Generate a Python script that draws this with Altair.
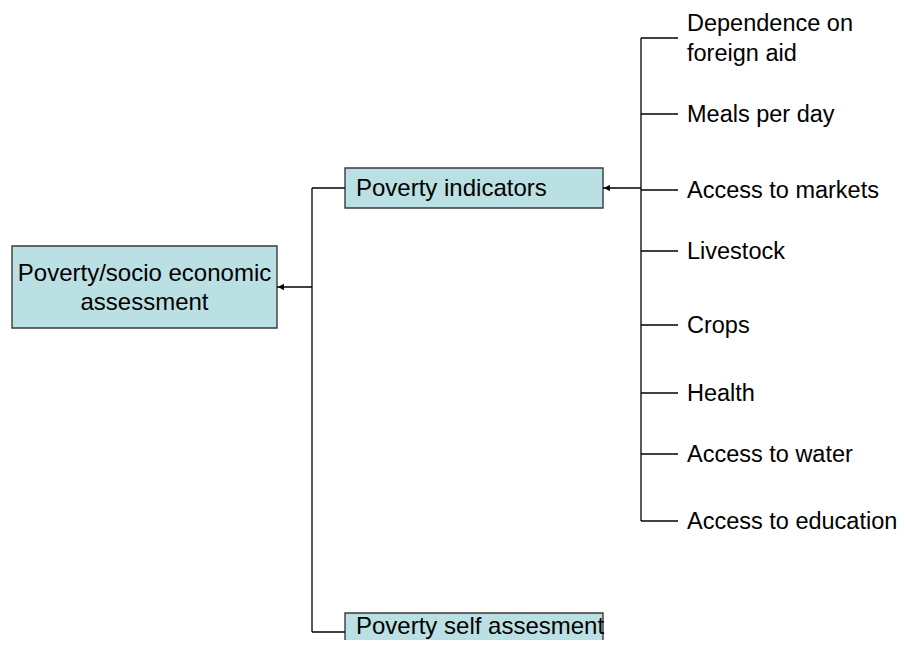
import altair as alt
import pandas as pd

# ---- content ----
root_label = "Poverty/socio economic\nassessment"
branch_labels = ["Poverty indicators", "Poverty self assesment"]
indicator_labels = [
    "Dependence on\nforeign aid",
    "Meals per day",
    "Access to markets",
    "Livestock",
    "Crops",
    "Health",
    "Access to water",
    "Access to education",
]

# ---- layout (pixel coordinates of the reference) ----
indicator_y = [38, 114, 190, 251, 325, 393, 454, 521]
indicator_text_y = [24, 115, 191, 252, 326, 394, 455, 522]
root_box = dict(x=12, x2=277, y=246, y2=328)
branch_boxes = [dict(x=345, x2=603, y=168, y2=208), dict(x=345, x2=603, y=613, y2=660)]
branch_y = [188, 632]
root_y = 287
trunk_x = 312
ind_trunk_x = 641
ind_tick_x2 = 678
ind_text_x = 687

FONT = "Liberation Sans"
FILL = "#BAE0E3"
W, H = 889, 632
xs = alt.Scale(domain=[8, 8 + W])
ys = alt.Scale(domain=[8, 8 + H], reverse=True)
X = lambda f: alt.X(f, type="quantitative", scale=xs, axis=None)
Y = lambda f: alt.Y(f, type="quantitative", scale=ys, axis=None)

boxes = pd.DataFrame([root_box] + branch_boxes)
box_layer = alt.Chart(boxes).mark_rect(fill=FILL, stroke="#3a3a3a", strokeWidth=1.4, clip=True).encode(
    x=X("x"), x2="x2", y=Y("y"), y2="y2"
)

# connector line segments
segs = []
segs.append(dict(x=trunk_x, x2=trunk_x, y=branch_y[0], y2=branch_y[1]))
segs.append(dict(x=root_box["x2"], x2=trunk_x, y=root_y, y2=root_y))
for by in branch_y:
    segs.append(dict(x=trunk_x, x2=345, y=by, y2=by))
segs.append(dict(x=ind_trunk_x, x2=ind_trunk_x, y=indicator_y[0], y2=indicator_y[-1]))
segs.append(dict(x=603, x2=ind_trunk_x, y=branch_y[0], y2=branch_y[0]))
for iy in indicator_y:
    segs.append(dict(x=ind_trunk_x, x2=ind_tick_x2, y=iy, y2=iy))
seg_layer = alt.Chart(pd.DataFrame(segs)).mark_rule(color="#000000", strokeWidth=1.3).encode(
    x=X("x"), x2="x2", y=Y("y"), y2="y2"
)

arrows = pd.DataFrame([dict(x=root_box["x2"] + 4, y=root_y), dict(x=603 + 4, y=branch_y[0])])
arrow_layer = alt.Chart(arrows).mark_point(
    shape="triangle-left", filled=True, color="#000000", size=45, opacity=1
).encode(x=X("x"), y=Y("y"))

root_text = alt.Chart(pd.DataFrame([dict(x=(root_box["x"] + root_box["x2"]) / 2, y=274, t=root_label)])).mark_text(
    font=FONT, fontSize=24, align="center", baseline="middle", lineBreak="\n", lineHeight=29, color="#000000"
).encode(x=X("x"), y=Y("y"), text="t:N")

branch_text = alt.Chart(pd.DataFrame(dict(x=[356, 356], y=[189, 627], t=branch_labels))).mark_text(
    font=FONT, fontSize=24, align="left", baseline="middle", color="#000000"
).encode(x=X("x"), y=Y("y"), text="t:N")

ind_text = alt.Chart(pd.DataFrame(dict(x=[ind_text_x] * len(indicator_labels), y=indicator_text_y, t=indicator_labels))).mark_text(
    font=FONT, fontSize=23.5, align="left", baseline="middle", lineBreak="\n", lineHeight=30, color="#000000"
).encode(x=X("x"), y=Y("y"), text="t:N")

chart = alt.layer(box_layer, seg_layer, arrow_layer, root_text, branch_text, ind_text).properties(
    width=W, height=H, padding=0, autosize=alt.AutoSizeParams(type="none"), background="white"
).configure_view(stroke=None)

chart.save("out.html", embed_options={"renderer": "svg", "actions": False})
